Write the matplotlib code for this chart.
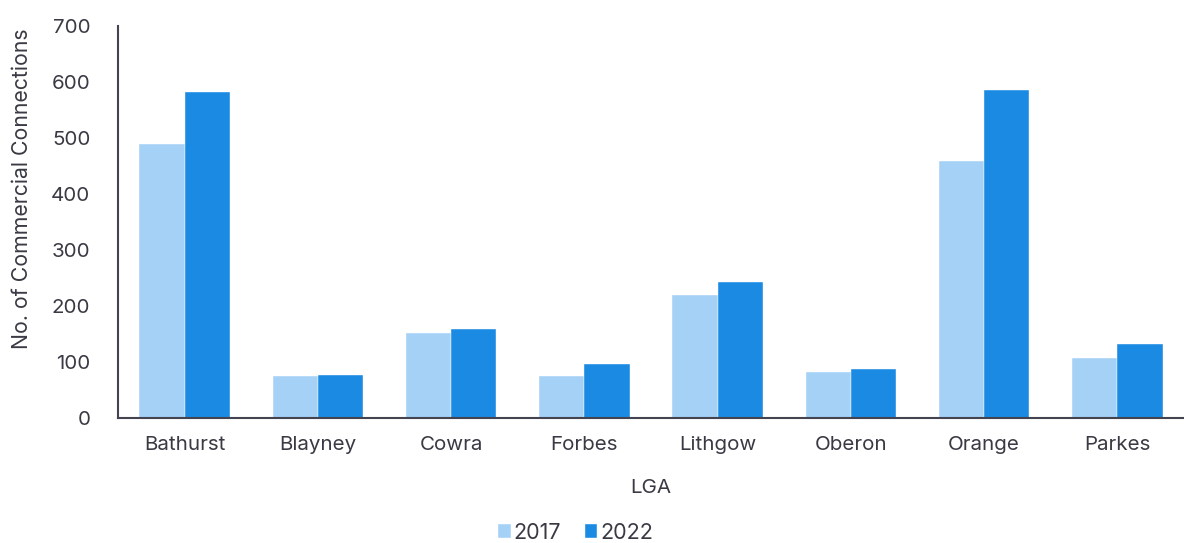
import matplotlib
matplotlib.use("Agg")
import matplotlib.pyplot as plt
import numpy as np

categories = ["Bathurst", "Blayney", "Cowra", "Forbes", "Lithgow", "Oberon", "Orange", "Parkes"]
series_names = ["2017", "2022"]
values_2017 = [489, 75, 152, 75, 220, 82, 459, 107]
values_2022 = [583, 76, 159, 97, 243, 87, 585, 132]
yticks = [0, 100, 200, 300, 400, 500, 600, 700]

c17 = "#A4D1F5"
c22 = "#1A8AE3"
tc = "#3a3a44"

plt.rcParams['font.family'] = ['Inter', 'DejaVu Sans']

fig = plt.figure(figsize=(11.84, 5.43), dpi=100)
ax = fig.add_axes([0.0997, 0.2302, 0.9003, 0.7218])

x = np.arange(len(categories))
w = 0.34
ax.bar(x - w/2, values_2017, w, color=c17, label=series_names[0], edgecolor="white", linewidth=0.3)
ax.bar(x + w/2, values_2022, w, color=c22, label=series_names[1], edgecolor="white", linewidth=0.3)

ax.set_xlim(-0.5, len(categories) - 0.5)
ax.set_ylim(0, 700)
ax.set_yticks(yticks)
ax.set_xticks(x)
ax.set_xticklabels(categories)
ax.tick_params(axis='both', length=0, labelsize=14.8, colors=tc)
ax.tick_params(axis='x', pad=13)
ax.tick_params(axis='y', pad=20)

for s in ["top", "right"]:
    ax.spines[s].set_visible(False)
for s in ["left", "bottom"]:
    ax.spines[s].set_color("#444450")
    ax.spines[s].set_linewidth(1.5)

ax.set_xlabel("LGA", fontsize=14.8, color=tc, labelpad=18)
ax.set_ylabel("No. of Commercial Connections", fontsize=15.3, color=tc)
ax.yaxis.set_label_coords(-0.081, 0.585)

leg = fig.legend(loc="lower center", bbox_to_anchor=(0.486, -0.035), ncol=2, frameon=False,
                 fontsize=15.5, handlelength=0.6, handleheight=0.6, handletextpad=0.12,
                 columnspacing=1.1)
for t in leg.get_texts():
    t.set_color(tc)

fig.savefig("out.png", dpi=100)
